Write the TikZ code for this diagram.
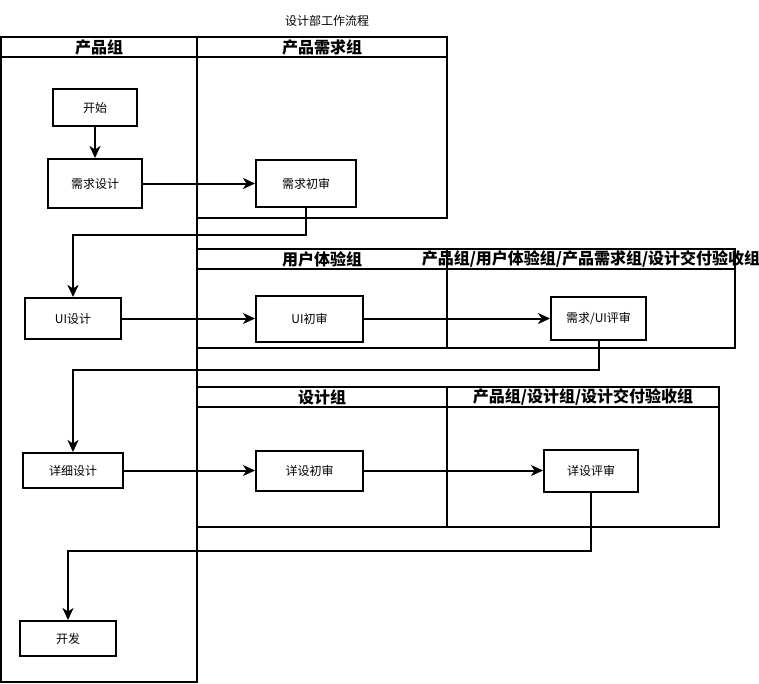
\documentclass[tikz,border=0pt]{standalone}
\usepackage{fontspec}
\setmainfont{Noto Sans CJK SC}
\usepackage{tikz}
\usetikzlibrary{arrows.meta, positioning}
\tikzset{
	lane/.style={draw=black, line width=2pt}
}
\tikzset{
	lanetitle/.style={inner sep=0pt, font=\bfseries\fontsize{16}{18}\selectfont}
}
\tikzset{
	stepbox/.style={draw=black, fill=white, line width=2pt, inner sep=0pt, font=\fontsize{12}{14}\selectfont}
}
\tikzset{
	flow/.style={draw=black, line width=2pt, -{Stealth[length=12pt, width=11pt, inset=3.5pt]}}
}

\begin{document}
\begin{tikzpicture}[x=1pt, y=-1pt]
		\useasboundingbox (0,0) rectangle (759,683);

		% title
		\node[font=\fontsize{12}{14}\selectfont] (title) at (327,21) {设计部工作流程};

		% lanes
		\draw[lane] (1,37) rectangle (197,682);
		\draw[lane] (1,57) -- (197,57);
		\node[lanetitle] (laneproduct) at (99,47) {产品组};

		\draw[lane] (197,37) rectangle (447,218);
		\draw[lane] (197,57) -- (447,57);
		\node[lanetitle] (lanedemand) at (322,47) {产品需求组};

		\draw[lane] (197,249) rectangle (447,348);
		\draw[lane] (197,269) -- (447,269);
		\node[lanetitle] (laneux) at (322,259) {用户体验组};

		\draw[lane] (447,249) rectangle (735,348);
		\draw[lane] (447,269) -- (735,269);
		\node[lanetitle] (laneuireview) at (591,259) {产品组/用户体验组/产品需求组/设计交付验收组};

		\draw[lane] (197,387) rectangle (447,527);
		\draw[lane] (197,407) -- (447,407);
		\node[lanetitle] (lanedesign) at (322,397) {设计组};

		\draw[lane] (447,387) rectangle (719,527);
		\draw[lane] (447,407) -- (719,407);
		\node[lanetitle] (lanedetailreview) at (583,397) {产品组/设计组/设计交付验收组};

		% steps
		\node[stepbox, minimum width=84pt, minimum height=37pt] (start) at (95,107.5) {开始};
		\node[stepbox, minimum width=94pt, minimum height=49pt] (demand) at (95,183.5) {需求设计};
		\node[stepbox, minimum width=100pt, minimum height=47pt] (demandcheck) at (306,183.5) {需求初审};
		\node[stepbox, minimum width=96pt, minimum height=41pt] (ui) at (73,318.5) {UI设计};
		\node[stepbox, minimum width=107pt, minimum height=46pt] (uicheck) at (309.5,318.5) {UI初审};
		\node[stepbox, minimum width=95pt, minimum height=43pt] (uireview) at (598.5,318.5) {需求/UI评审};
		\node[stepbox, minimum width=100pt, minimum height=35pt] (detail) at (73,470.5) {详细设计};
		\node[stepbox, minimum width=107pt, minimum height=40pt] (detailcheck) at (309.5,470.5) {详设初审};
		\node[stepbox, minimum width=94pt, minimum height=42pt] (detailreview) at (591,470.5) {详设评审};
		\node[stepbox, minimum width=96pt, minimum height=35pt] (develop) at (68,638.5) {开发};

		% flow
		\draw[flow] (start) -- (demand);
		\draw[flow] (demand) -- (demandcheck);
		\draw[flow] (demandcheck.south) -- ++(0,27) -| (ui.north);
		\draw[flow] (ui) -- (uicheck);
		\draw[flow] (uicheck) -- (uireview);
		\draw[flow] (uireview.south) -- ++(0,29) -| (detail.north);
		\draw[flow] (detail) -- (detailcheck);
		\draw[flow] (detailcheck) -- (detailreview);
		\draw[flow] (detailreview.south) -- ++(0,58) -| (develop.north);

	\end{tikzpicture}
\end{document}
